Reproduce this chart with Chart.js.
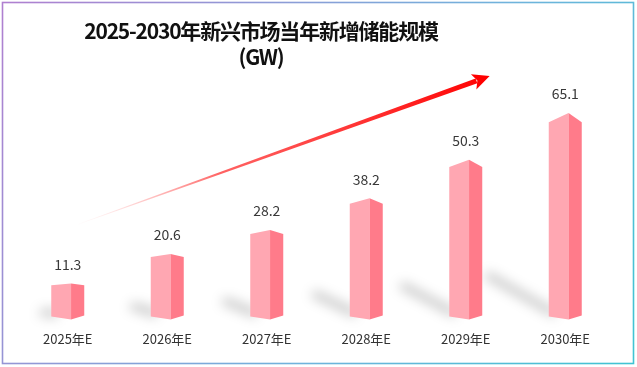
<!DOCTYPE html>
<html>
<head>
<meta charset="utf-8">
<title>新兴市场新增储能规模</title>
<script src="https://cdn.jsdelivr.net/npm/chart.js@4.4.1/dist/chart.umd.min.js"></script>
<style>
  html, body { margin: 0; padding: 0; background: #fff; }
</style>
</head>
<body>
<canvas id="bars" width="637" height="367"></canvas>
<script>
  // data
  var years = ['2025年E', '2026年E', '2027年E', '2028年E', '2029年E', '2030年E'];
  var capacity = [11.3, 20.6, 28.2, 38.2, 50.3, 65.1];
  var titleLines = ['2025-2030年新兴市场当年新增储能规模', '(GW)'];
  // trend arrow ends, in (category index, GW) units
  var trendFrom = [0.07, 29.6];
  var trendTo = [4.24, 76.7];

  var cjk = '"Noto Sans CJK SC", "Microsoft YaHei", sans-serif';

  function poly(ctx, pts, fill) {
    ctx.beginPath();
    ctx.moveTo(pts[0][0], pts[0][1]);
    for (var i = 1; i < pts.length; i++) ctx.lineTo(pts[i][0], pts[i][1]);
    ctx.closePath();
    ctx.fillStyle = fill;
    ctx.fill();
  }

  var deco = {
    id: 'deco',
    beforeDatasetsDraw(chart) {
      var ctx = chart.ctx;
      var meta = chart.getDatasetMeta(0);
      // soft shadows falling to the upper left of each bar
      ctx.save();
      ctx.filter = 'blur(6px)';
      meta.data.forEach(function (el) {
        var h = el.base - el.y;
        var x0 = el.x - el.width / 2;
        var b = el.base;
        poly(ctx, [
          [x0 + 6, b - 1],
          [x0 + 6, b - 11],
          [x0 - 0.3 * h + 2, b - 0.22 * h - 3],
          [x0 - 0.3 * h - 3, b - 0.22 * h + 4]
        ], 'rgba(0,0,0,0.2)');
      });
      ctx.restore();
    },
    afterDatasetsDraw(chart) {
      var ctx = chart.ctx;
      var meta = chart.getDatasetMeta(0);
      ctx.save();
      meta.data.forEach(function (el, i) {
        var w = el.width;
        var x0 = el.x - w / 2;
        var xr = x0 + w * 0.6;
        var x1 = el.x + w / 2;
        var y = el.y, b = el.base;
        var s = 0.045 * (b - y);
        poly(ctx, [[x0, y + s], [xr, y], [xr, b], [x0, b - 3]], '#ffa7b2');
        poly(ctx, [[xr, y], [x1, y + s], [x1, b - 4], [xr, b]], '#ff7b8a');
        ctx.fillStyle = '#383838';
        ctx.font = '14px ' + cjk;
        ctx.textAlign = 'center';
        ctx.textBaseline = 'middle';
        ctx.fillText(capacity[i].toFixed(1), el.x, y - 19);
      });

      // trend arrow
      var xs = chart.scales.x, ys = chart.scales.y;
      var ax = xs.getPixelForValue(trendFrom[0]), ay = ys.getPixelForValue(trendFrom[1]);
      var bx = xs.getPixelForValue(trendTo[0]), by = ys.getPixelForValue(trendTo[1]);
      var ang = Math.atan2(by - ay, bx - ax);
      var len = Math.hypot(bx - ax, by - ay);
      ctx.translate(ax, ay);
      ctx.rotate(ang);
      var g = ctx.createLinearGradient(0, 0, len, 0);
      g.addColorStop(0, 'rgba(255,160,160,0)');
      g.addColorStop(0.35, 'rgba(255,60,60,0.8)');
      g.addColorStop(1, '#ff0000');
      poly(ctx, [[0, -0.3], [len - 14, -2.6], [len - 14, 2.6], [0, 0.3]], g);
      poly(ctx, [[len, 0], [len - 17, -8], [len - 13, 0], [len - 17, 8]], '#ff0000');
      ctx.restore();
    },
    afterDraw(chart) {
      var ctx = chart.ctx;
      ctx.save();
      ctx.fillStyle = '#111';
      ctx.font = 'bold 21px ' + cjk;
      ctx.letterSpacing = '-1.2px';
      ctx.textAlign = 'center';
      ctx.textBaseline = 'middle';
      ctx.fillText(titleLines[0], 261, 31);
      ctx.fillText(titleLines[1], 261, 57);
      var g = ctx.createLinearGradient(0, 0, 637, 367);
      g.addColorStop(0, '#b07fd0');
      g.addColorStop(0.6, '#70b3dc');
      g.addColorStop(1, '#3fc4d2');
      ctx.strokeStyle = g;
      ctx.lineWidth = 1.6;
      ctx.strokeRect(2.5, 2.5, 631, 361);
      ctx.restore();
    }
  };

  new Chart(document.getElementById('bars').getContext('2d'), {
    type: 'bar',
    data: {
      labels: years,
      datasets: [{
        data: capacity,
        backgroundColor: 'rgba(0,0,0,0)',
        borderWidth: 0,
        barThickness: 33
      }]
    },
    options: {
      responsive: false,
      animation: false,
      devicePixelRatio: 1,
      layout: { padding: { left: 18, right: 22, top: 81.5, bottom: 8 } },
      plugins: { legend: { display: false }, tooltip: { enabled: false } },
      scales: {
        x: {
          grid: { display: false, drawTicks: false },
          border: { display: false },
          ticks: { color: '#333', font: { family: cjk, size: 13 }, padding: 12 }
        },
        y: { display: false, min: 0, max: 75 }
      }
    },
    plugins: [deco]
  });
</script>
</body>
</html>
